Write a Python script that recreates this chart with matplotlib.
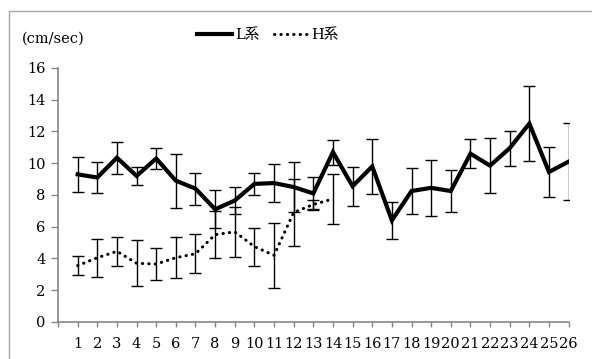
import matplotlib
matplotlib.use("Agg")
import matplotlib.pyplot as plt
from matplotlib.lines import Line2D
from matplotlib.patches import Rectangle

plt.rcParams['font.family'] = ['DejaVu Serif', 'Noto Sans CJK JP']

# data
days = list(range(1, 27))
l_mean = [9.3, 9.1, 10.35, 9.2, 10.3, 8.9, 8.4, 7.1, 7.65, 8.7, 8.75, 8.5, 8.1,
          10.7, 8.55, 9.8, 6.4, 8.25, 8.45, 8.25, 10.6, 9.85, 10.95, 12.5, 9.45, 10.1]
l_err = [1.1, 1.0, 1.0, 0.55, 0.67, 1.7, 1.0, 1.2, 0.84, 0.68, 1.2, 1.55, 1.05,
         0.78, 1.22, 1.72, 1.18, 1.45, 1.75, 1.3, 0.92, 1.75, 1.1, 2.35, 1.6, 2.43]

h_days = list(range(1, 15))
h_mean = [3.55, 4.05, 4.45, 3.7, 3.65, 4.05, 4.3, 5.5, 5.68, 4.75, 4.2, 6.9, 7.4, 7.75]
h_err = [0.6, 1.2, 0.93, 1.45, 1.0, 1.3, 1.23, 1.47, 1.56, 1.2, 2.05, 2.1, 0.3, 1.6]

fig = plt.figure(figsize=(5.92, 3.59), dpi=100)
ax = fig.add_axes([0.098, 0.1031, 0.8625, 0.7075])

# chart area border (partly cut off at right/bottom)
fig.patches.append(Rectangle((9 / 592, -0.05), 1.05, (359 - 11) / 359 + 0.05,
                             transform=fig.transFigure, fill=False,
                             edgecolor='#a6a6a6', linewidth=1.0))

ax.errorbar(days, l_mean, yerr=l_err, fmt='none', ecolor='black',
            elinewidth=1.0, capsize=4.5, capthick=1.0, zorder=2)
ax.errorbar(h_days, h_mean, yerr=h_err, fmt='none', ecolor='black',
            elinewidth=1.0, capsize=4.5, capthick=1.0, zorder=2)

ax.plot(days, l_mean, color='black', linewidth=3.0, solid_joinstyle='miter', zorder=3)
ax.plot(h_days, h_mean, color='black', linewidth=2.2,
        linestyle=(0, (0.1, 2.0)), dash_capstyle='round', zorder=3)

ax.set_xlim(0, 26)
ax.set_ylim(0, 16)
ax.set_yticks(range(0, 17, 2))
ax.set_xticks(range(0, 27))
ax.set_xticklabels([''] + [str(d) for d in days])

for side in ['top', 'right']:
    ax.spines[side].set_visible(False)
for side in ['left', 'bottom']:
    ax.spines[side].set_color('#868686')
    ax.spines[side].set_linewidth(1.2)

ax.tick_params(axis='y', direction='out', length=5, width=1, color='#868686',
               labelsize=10.5, pad=4)
ax.tick_params(axis='x', direction='out', length=3.5, width=1, color='#868686',
               labelsize=10.5, pad=7)

fig.text(22 / 592, 1 - 39 / 359, '(cm/sec)', fontsize=10.5, va='center', ha='left')

handles = [Line2D([], [], color='black', linewidth=3.0),
           Line2D([], [], color='black', linewidth=2.2,
                  linestyle=(0, (0.1, 2.0)), dash_capstyle='round')]
fig.legend(handles, ['L系', 'H系'], loc='center', ncol=2,
           bbox_to_anchor=(268 / 592, 1 - 35 / 359), frameon=False,
           fontsize=10.5, handlelength=2.4, handletextpad=0.2, columnspacing=1.0)

fig.savefig('out.png', dpi=100)
